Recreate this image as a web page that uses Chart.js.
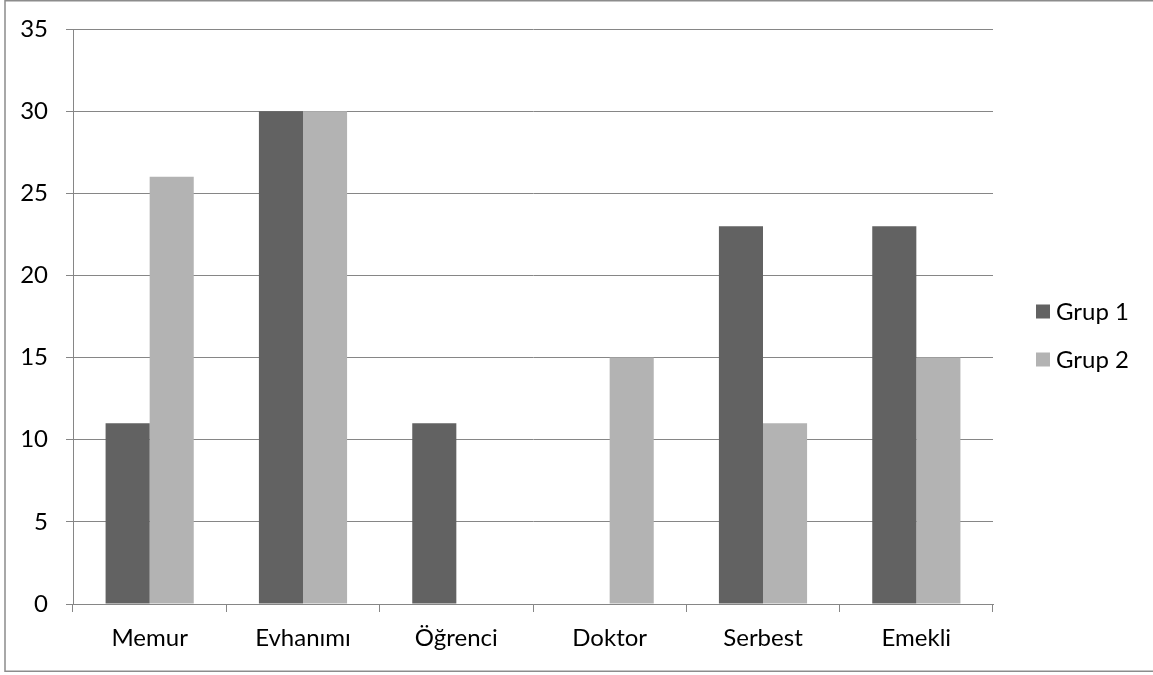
<!DOCTYPE html>
<html>
<head>
<meta charset="utf-8">
<script src="https://cdn.jsdelivr.net/npm/chart.js@4.4.1/dist/chart.umd.min.js"></script>
<style>
  html, body { margin: 0; padding: 0; background: #ffffff; }
  #wrap { width: 1153px; height: 675px; position: relative; }
</style>
</head>
<body>
<div id="wrap"><canvas id="c" width="1153" height="675"></canvas></div>
<script>
const categories = ['Memur', 'Evhanımı', 'Öğrenci', 'Doktor', 'Serbest', 'Emekli'];
const grup1 = [11, 30, 11, 0, 23, 23];
const grup2 = [26, 30, 0, 15, 11, 15];
const seriesNames = ['Grup 1', 'Grup 2'];
const yTicks = [0, 5, 10, 15, 20, 25, 30, 35];

const FONT = 'Lato, "Open Sans", sans-serif';
const FONT_SIZE = 24;
const AXIS_GREY = '#868686';

// Outer frame around the chart object
const framePlugin = {
  id: 'frame',
  beforeDraw(chart) {
    const ctx = chart.ctx;
    ctx.save();
    ctx.fillStyle = '#ffffff';
    ctx.fillRect(0, 0, chart.width, chart.height);
    ctx.strokeStyle = '#8c8c8c';
    ctx.lineWidth = 1.5;
    ctx.strokeRect(5, 0.75, chart.width + 10, 670.5);
    ctx.restore();
  }
};

// Legend drawn to the right of the plot, centred vertically
const sideLegend = {
  id: 'sideLegend',
  afterDraw(chart) {
    const ctx = chart.ctx;
    ctx.save();
    ctx.font = FONT_SIZE + 'px ' + FONT;
    ctx.textBaseline = 'middle';
    ctx.textAlign = 'left';
    chart.data.datasets.forEach((ds, i) => {
      const cy = 311.5 + i * 48;
      ctx.fillStyle = ds.backgroundColor;
      ctx.fillRect(1036, cy - 7, 14, 14);
      ctx.fillStyle = '#000000';
      ctx.fillText(ds.label, 1056, cy + 1);
    });
    ctx.restore();
  }
};

new Chart(document.getElementById('c'), {
  type: 'bar',
  data: {
    labels: categories,
    datasets: [
      { label: seriesNames[0], data: grup1, backgroundColor: '#626262' },
      { label: seriesNames[1], data: grup2, backgroundColor: '#b3b3b3' }
    ]
  },
  options: {
    responsive: false,
    animation: false,
    devicePixelRatio: 1,
    layout: { padding: { left: 0, top: 29, right: 160, bottom: 0 } },
    datasets: {
      bar: { categoryPercentage: 0.575, barPercentage: 1.0, borderWidth: 0 }
    },
    plugins: {
      legend: { display: false },
      tooltip: { enabled: false }
    },
    scales: {
      x: {
        grid: {
          offset: true,
          drawOnChartArea: false,
          drawTicks: true,
          tickLength: 8,
          color: AXIS_GREY,
          lineWidth: 1
        },
        border: { display: true, color: AXIS_GREY, width: 1 },
        ticks: {
          color: '#000000',
          font: { family: FONT, size: FONT_SIZE },
          padding: 12,
          maxRotation: 0
        },
        afterFit(scale) {
          scale.height = 71;
          scale.paddingLeft = 0;
          scale.paddingRight = 0;
        }
      },
      y: {
        min: 0,
        max: 35,
        afterBuildTicks(scale) { scale.ticks = yTicks.map(v => ({ value: v })); },
        grid: {
          color: AXIS_GREY,
          lineWidth: 1,
          drawTicks: true,
          tickLength: 7
        },
        border: { display: true, color: AXIS_GREY, width: 1 },
        ticks: {
          color: '#000000',
          font: { family: FONT, size: FONT_SIZE },
          padding: 18
        },
        afterFit(scale) {
          scale.width = 73;
          scale.paddingTop = 0;
          scale.paddingBottom = 0;
        }
      }
    }
  },
  plugins: [framePlugin, sideLegend]
});
</script>
</body>
</html>
